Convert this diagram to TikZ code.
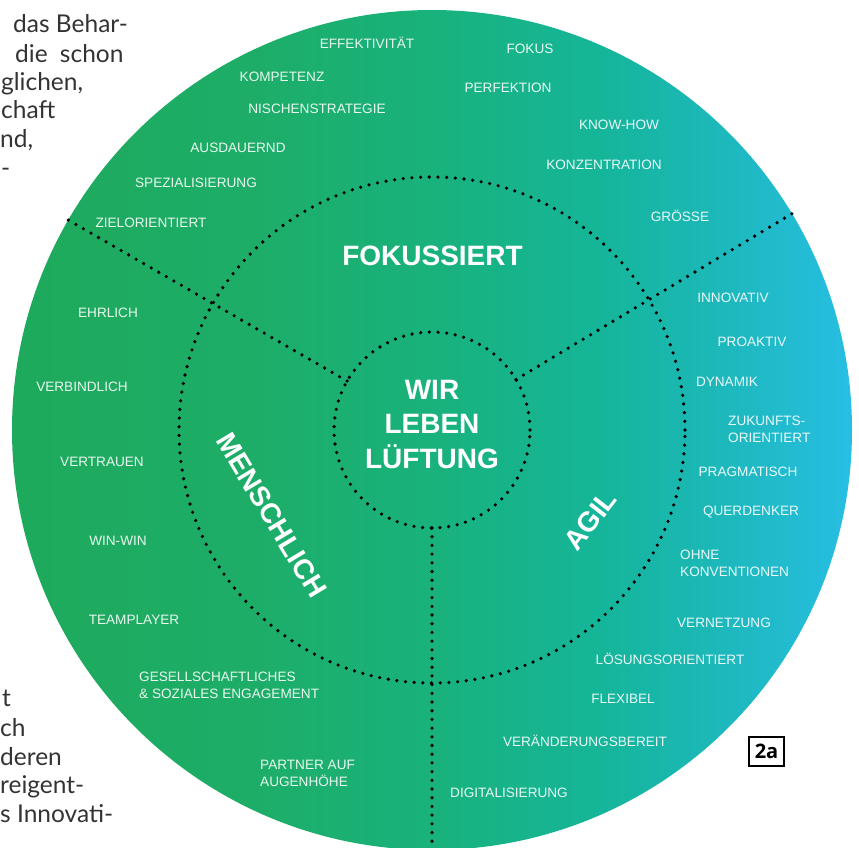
\documentclass[tikz,border=0pt]{standalone}
\usepackage{fontspec}
\usetikzlibrary{calc}
\setmainfont{Liberation Sans}
\newfontfamily\bodyfont{Lato}
\newfontfamily\tagfont{Open Sans}

% colours of the wheel, from green on the left to cyan on the right
\definecolor{wA}{HTML}{1EAA5C}
\definecolor{wB}{HTML}{1DAD67}
\definecolor{wC}{HTML}{19B27C}
\definecolor{wD}{HTML}{15B599}
\definecolor{wE}{HTML}{1CB8BA}
\definecolor{wF}{HTML}{27BEE3}
\definecolor{bodygray}{HTML}{333333}

\pgfdeclarehorizontalshading{wheelshade}{100bp}{%
  color(0bp)=(wA); color(25bp)=(wA); color(39bp)=(wB); color(50bp)=(wC);
  color(60bp)=(wD); color(67bp)=(wE); color(75bp)=(wF); color(100bp)=(wF)}

\tikzset{
  dotline/.style={draw=black, line width=3.6pt, line cap=round, dash pattern=on 0pt off 8.7pt},
  ringnode/.style={circle, inner sep=0pt, outer sep=0pt},
  word/.style={text=white, text opacity=0.9, font=\fontsize{13.6}{17}\selectfont,
    inner sep=0pt, text height=9.7pt, text depth=0pt},
  wordblock/.style={text=white, text opacity=0.9, font=\fontsize{13.6}{17}\selectfont,
    inner sep=0pt, align=left, anchor=north west},
  pillar/.style={text=white, font=\bfseries\fontsize{28}{34.5}\selectfont,
    inner sep=0pt, text height=20pt, text depth=0pt},
  body/.style={text=bodygray, font=\bodyfont\fontsize{24.5}{28.8}\selectfont,
    inner sep=0pt, anchor=base west},
}

\begin{document}
\begin{tikzpicture}[x=1pt, y=-1pt]
\useasboundingbox (0,0) rectangle (859,847);
\clip (0,0) rectangle (859,847);

% the wheel and its two dotted rings
\node[ringnode, minimum size=840pt, shading=wheelshade] (wheel) at (432,430) {};
\node[ringnode, minimum size=506pt, dotline] (ring) at (432,430) {};
\node[ringnode, minimum size=196pt, dotline] (hub) at (432,430) {};

% dotted spokes between the three sectors
\draw[dotline] (hub.150.4) -- (wheel.150.4);
\draw[dotline] (hub.31) -- (wheel.31);
\draw[dotline] (hub.south) -- ($(wheel.south)+(0,8)$);

% centre and sector titles
\node[text=white, font=\bfseries\fontsize{28}{34.5}\selectfont, inner sep=0pt,
      align=center, anchor=north] (motto) at (432,380) {WIR\\LEBEN\\LÜFTUNG};
\node[pillar] (fok) at (432.5,255) {FOKUSSIERT};
\node[pillar, rotate=-59] (men) at (272,515) {MENSCHLICH};
\node[pillar, rotate=52] (agil) at (590,520) {AGIL};

% sector: fokussiert
\node[word] (w1) at (367,44) {EFFEKTIVITÄT};
\node[word] (w2) at (530,49) {FOKUS};
\node[word] (w3) at (282,77) {KOMPETENZ};
\node[word] (w4) at (508,88) {PERFEKTION};
\node[word] (w5) at (317,109) {NISCHENSTRATEGIE};
\node[word] (w6) at (619,125) {KNOW-HOW};
\node[word] (w7) at (238,148) {AUSDAUERND};
\node[word] (w8) at (604,165) {KONZENTRATION};
\node[word] (w9) at (196,183) {SPEZIALISIERUNG};
\node[word] (w10) at (680,217) {GRÖSSE};
\node[word] (w11) at (151,223) {ZIELORIENTIERT};

% sector: agil
\node[word] (a1) at (733,298) {INNOVATIV};
\node[word] (a2) at (752,342) {PROAKTIV};
\node[word] (a3) at (727,382) {DYNAMIK};
\node[wordblock] (a4) at (728,416) {ZUKUNFTS-\\ORIENTIERT};
\node[word] (a5) at (748,472) {PRAGMATISCH};
\node[word] (a6) at (751,511) {QUERDENKER};
\node[wordblock] (a7) at (680,550) {OHNE\\KONVENTIONEN};
\node[word] (a8) at (724,623) {VERNETZUNG};
\node[word] (a9) at (670,660) {LÖSUNGSORIENTIERT};
\node[word] (a10) at (623,699) {FLEXIBEL};
\node[word] (a11) at (585,742) {VERÄNDERUNGSBEREIT};
\node[word] (a12) at (509,793) {DIGITALISIERUNG};

% sector: menschlich
\node[word] (m1) at (108,313) {EHRLICH};
\node[word] (m2) at (82,387) {VERBINDLICH};
\node[word] (m3) at (102,462) {VERTRAUEN};
\node[word] (m4) at (118,541) {WIN-WIN};
\node[word] (m5) at (134,620) {TEAMPLAYER};
\node[wordblock] (m6) at (139,672) {GESELLSCHAFTLICHES\\\& SOZIALES ENGAGEMENT};
\node[wordblock] (m7) at (260,760) {PARTNER AUF\\AUGENHÖHE};

% figure tag
\node[draw=black, line width=1.4pt, minimum width=35pt, minimum height=29pt, inner sep=0pt,
      font=\tagfont\bfseries\fontsize{20}{20}\selectfont] (tag) at (766.5,751.5) {2a};

% running text of the page beside the figure
\node[body] (t1) at (13,32) {das Behar-};
\node[body] (t2) at (15,62) {die\hspace{0.5em}schon};
\node[body] (t3) at (1,90) {glichen,};
\node[body] (t4) at (1,118) {chaft};
\node[body] (t5) at (0,147) {nd,};
\node[body] (t6) at (1,176) {-};
\node[body] (b1) at (2,706) {t};
\node[body] (b2) at (0,736) {ch};
\node[body] (b3) at (0,765) {deren};
\node[body] (b4) at (0,793) {reigent-};
\node[body] (b5) at (0,822) {s Innovati-};
\end{tikzpicture}
\end{document}
